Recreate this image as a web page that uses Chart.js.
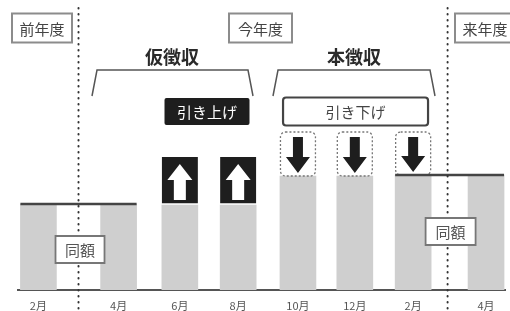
<!DOCTYPE html>
<html><head><meta charset="utf-8">
<script src="https://cdn.jsdelivr.net/npm/chart.js@4.4.1/dist/chart.umd.min.js"></script>
<style>html,body{margin:0;padding:0;background:#fff}#wrap{width:510px;height:311px;position:relative}canvas{display:block}</style>
</head><body><div id="wrap"><canvas id="c" width="510" height="311" style="width:510px;height:311px"></canvas></div>
<script>
// ---- data ----
const months = ['2月','4月','6月','8月','10月','12月','2月','4月'];
// position of each month on the (schematic) time axis
const timeline = [1, 3.75, 5.85, 7.85, 9.9, 11.85, 13.85, 16.35];
const baseAmount    = [43, 43, 42.5, 42.5, 57, 57, 57.5, 57.5];
const raisedAmount  = [null, null, 24, 24, null, null, null, null];
const loweredAmount = [null, null, null, null, 22, 22, 21.5, null];
const yearLabels = ['前年度', '今年度', '来年度'];
const phaseLabels = ['仮徴収', '本徴収'];
const actionLabels = ['引き上げ', '引き下げ'];
const sameLabel = '同額';

const FONT = "'Noto Sans CJK JP', 'Noto Sans', sans-serif";
const toXY = arr => arr.map((v, i) => ({x: timeline[i], y: v}));

function upArrow(ctx, cx, top, bottom) {
  const headH = 16, headW = 12.5, shaftW = 6;
  ctx.beginPath();
  ctx.moveTo(cx, top);
  ctx.lineTo(cx + headW, top + headH);
  ctx.lineTo(cx + shaftW, top + headH);
  ctx.lineTo(cx + shaftW, bottom);
  ctx.lineTo(cx - shaftW, bottom);
  ctx.lineTo(cx - shaftW, top + headH);
  ctx.lineTo(cx - headW, top + headH);
  ctx.closePath();
  ctx.fill();
}
function downArrow(ctx, cx, top, tip) {
  const headH = 16, headW = 12, shaftW = 5;
  ctx.beginPath();
  ctx.moveTo(cx - shaftW, top);
  ctx.lineTo(cx + shaftW, top);
  ctx.lineTo(cx + shaftW, tip - headH);
  ctx.lineTo(cx + headW, tip - headH);
  ctx.lineTo(cx, tip);
  ctx.lineTo(cx - headW, tip - headH);
  ctx.lineTo(cx - shaftW, tip - headH);
  ctx.closePath();
  ctx.fill();
}
function labelBox(ctx, cx, cy, w, h, text, opt) {
  ctx.save();
  ctx.fillStyle = opt.fill;
  ctx.beginPath();
  ctx.roundRect(cx - w / 2, cy - h / 2, w, h, opt.radius || 0);
  ctx.fill();
  if (opt.stroke) {
    ctx.strokeStyle = opt.stroke;
    ctx.lineWidth = opt.lw || 2;
    ctx.stroke();
  }
  ctx.fillStyle = opt.color;
  ctx.font = (opt.weight || 'normal') + ' ' + opt.size + 'px ' + FONT;
  ctx.textAlign = 'center';
  ctx.textBaseline = 'middle';
  ctx.fillText(text, cx, cy + 1);
  ctx.restore();
}
function bracket(ctx, x0, x1, top, bottom) {
  ctx.save();
  ctx.strokeStyle = '#555';
  ctx.lineWidth = 1.5;
  ctx.beginPath();
  ctx.moveTo(x0 - 5, bottom);
  ctx.lineTo(x0, top);
  ctx.lineTo(x1, top);
  ctx.lineTo(x1 + 5, bottom);
  ctx.stroke();
  ctx.restore();
}

const diagram = {
  id: 'diagram',
  afterDatasetsDraw(chart) {
    const ctx = chart.ctx;
    const base = chart.getDatasetMeta(0).data;
    const up = chart.getDatasetMeta(1).data;
    const down = chart.getDatasetMeta(2).data;
    const half = base[0].width / 2;

    // dashed boxes (引き下げ)
    down.forEach((el, i) => {
      if (loweredAmount[i] == null) return;
      ctx.save();
      ctx.strokeStyle = '#777';
      ctx.lineWidth = 1.3;
      ctx.setLineDash([2, 2]);
      ctx.beginPath();
      ctx.roundRect(el.x - half + 0.5, el.y, half * 2 - 1, el.base - el.y, 5);
      ctx.stroke();
      ctx.restore();
    });

    // level lines spanning the 同額 pairs
    ctx.save();
    ctx.strokeStyle = '#444';
    ctx.lineWidth = 2.5;
    [[0, 1], [6, 7]].forEach(([a, b]) => {
      ctx.beginPath();
      ctx.moveTo(base[a].x - half, base[a].y);
      ctx.lineTo(base[b].x + half, base[a].y);
      ctx.stroke();
    });
    ctx.restore();

    // arrows
    ctx.save();
    ctx.fillStyle = '#fff';
    up.forEach((el, i) => {
      if (raisedAmount[i] == null) return;
      upArrow(ctx, el.x, el.y + 7, el.base - 5);
    });
    ctx.fillStyle = '#1e1e1e';
    down.forEach((el, i) => {
      if (loweredAmount[i] == null) return;
      downArrow(ctx, el.x, el.y + 5, el.base - 3);
    });
    ctx.restore();

    // year boundaries (dotted)
    const b1 = (base[0].x + base[1].x) / 2;
    const b2 = (base[6].x + base[7].x) / 2 - 2;
    ctx.save();
    ctx.strokeStyle = '#333';
    ctx.lineWidth = 2;
    ctx.lineCap = 'round';
    ctx.setLineDash([0.5, 5.5]);
    [b1, b2].forEach(x => {
      ctx.beginPath();
      ctx.moveTo(x, 8);
      ctx.lineTo(x, chart.height);
      ctx.stroke();
    });
    ctx.restore();

    // year header boxes
    const hdr = {fill: '#fff', stroke: '#8c8c8c', lw: 2, color: '#444', size: 15};
    labelBox(ctx, 42, 28, 60, 29, yearLabels[0], hdr);
    labelBox(ctx, 260.5, 28, 63, 29, yearLabels[1], hdr);
    labelBox(ctx, 485, 28, 60, 29, yearLabels[2], hdr);

    // phase titles + brackets
    ctx.save();
    ctx.fillStyle = '#2a2a2a';
    ctx.font = 'bold 18px ' + FONT;
    ctx.textAlign = 'center';
    ctx.textBaseline = 'middle';
    ctx.fillText(phaseLabels[0], 172, 57);
    ctx.fillText(phaseLabels[1], 354, 57);
    ctx.restore();
    bracket(ctx, 97, 248, 70, 96);
    bracket(ctx, 278, 430, 70, 96);

    // action labels
    labelBox(ctx, (up[2].x + up[3].x) / 2 - 2, 111.5, 85, 27, actionLabels[0],
      {fill: '#1e1e1e', color: '#fff', size: 15, radius: 2});
    labelBox(ctx, (down[4].x + down[6].x) / 2, 111.5, 145, 28, actionLabels[1],
      {fill: '#fff', stroke: '#444', lw: 2.2, color: '#444', size: 15, radius: 3});

    // 同額 boxes
    const same = {fill: '#fff', stroke: '#777', lw: 1.8, color: '#555', size: 15};
    labelBox(ctx, b1 + 1.5, 249.5, 49, 27, sameLabel, same);
    labelBox(ctx, b2 + 3, 231.5, 50, 27, sameLabel, same);
  }
};

new Chart(document.getElementById('c'), {
  type: 'bar',
  data: {
    datasets: [
      {data: toXY(baseAmount), backgroundColor: '#cfcfcf', borderWidth: 0, barThickness: 36},
      {data: toXY(raisedAmount), backgroundColor: '#1e1e1e', borderColor: '#fff', barThickness: 36,
       borderWidth: {bottom: 2, top: 0, left: 0, right: 0}, borderSkipped: false},
      {data: toXY(loweredAmount), backgroundColor: 'rgba(0,0,0,0)', borderWidth: 0, barThickness: 36}
    ]
  },
  options: {
    responsive: false,
    animation: false,
    devicePixelRatio: 1,
    layout: {padding: {left: 18, right: 5, top: 0, bottom: 0}},
    plugins: {legend: {display: false}, tooltip: {enabled: false}},
    scales: {
      x: {
        type: 'linear', min: 0.3, max: 17, offset: false, stacked: true,
        grid: {display: false, drawTicks: false},
        border: {display: true, color: '#555', width: 2},
        afterBuildTicks: s => { s.ticks = timeline.map(v => ({value: v})); },
        afterFit: s => { s.height = 21; },
        ticks: {
          autoSkip: false, maxRotation: 0, padding: 9,
          color: '#555', font: {family: FONT, size: 11},
          callback: (v, i) => months[i]
        }
      },
      y: {display: false, stacked: true, min: 0, max: 145}
    }
  },
  plugins: [diagram]
});
</script>
</body></html>
